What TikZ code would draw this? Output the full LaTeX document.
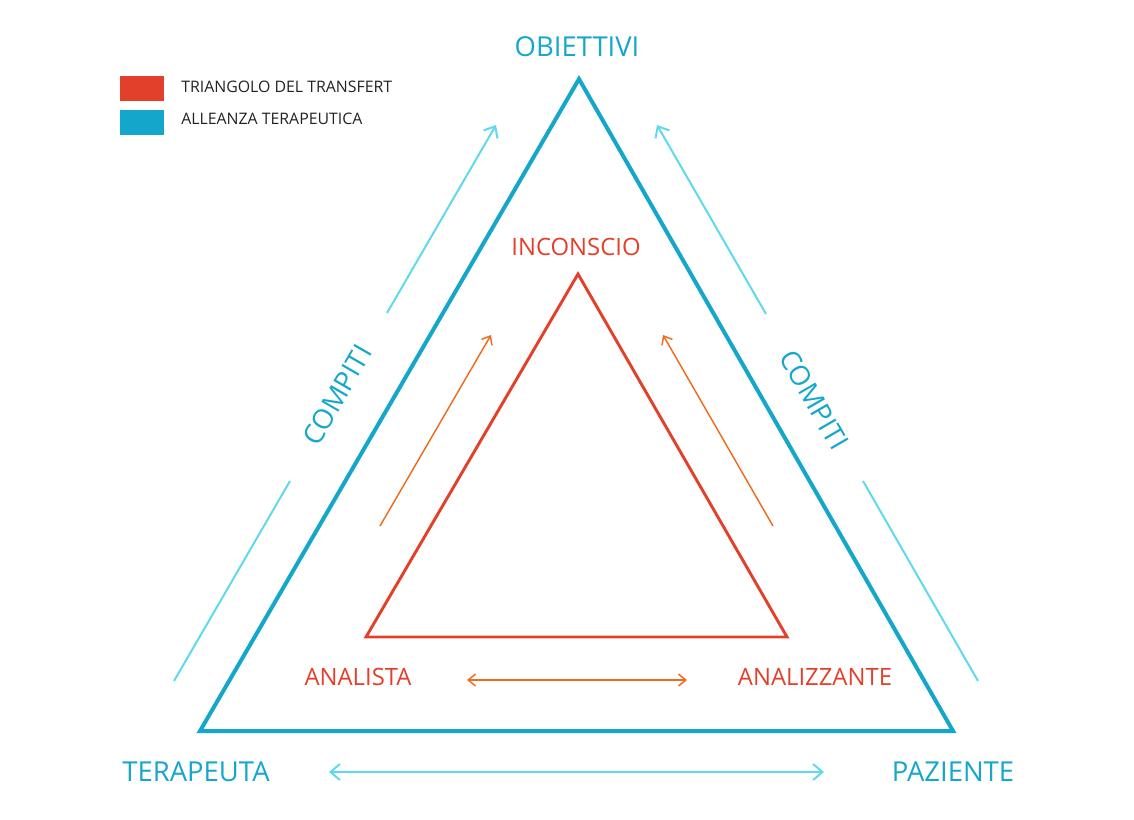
\documentclass[tikz,border=0pt]{standalone}
\usepackage{fontspec}
\setmainfont{Open Sans}
\usetikzlibrary{arrows.meta}
\definecolor{tblue}{HTML}{14A7CB}
\definecolor{lblue}{HTML}{5FD9EC}
\definecolor{tred}{HTML}{E2402A}
\definecolor{torange}{HTML}{EE6C1E}
\definecolor{tgray}{HTML}{222222}
\tikzset{
  lbl/.style={inner sep=0pt, anchor=center, font=\fontsize{20.6}{20.6}\selectfont},
  redlbl/.style={inner sep=0pt, anchor=center, text=tred, font=\fontsize{17.9}{17.9}\selectfont},
  bluelbl/.style={lbl, text=tblue},
  legtxt/.style={inner sep=0pt, anchor=west, text=tgray, font=\fontsize{11.9}{11.9}\selectfont},
  outer/.style={draw=tblue, line width=3pt, line join=miter},
  inner/.style={draw=tred, line width=2.2pt, line join=miter},
  larrow/.style={draw=lblue, line width=1.5pt, -{Straight Barb[length=7pt,width=12pt,line width=1.5pt]}},
  lline/.style={draw=lblue, line width=1.5pt},
  ldouble/.style={draw=lblue, line width=1.5pt, {Straight Barb[length=7pt,width=12pt,line width=1.5pt]}-{Straight Barb[length=7pt,width=12pt,line width=1.5pt]}},
  oarrow/.style={draw=torange, line width=1.1pt, -{Straight Barb[length=5.5pt,width=9pt,line width=1.1pt]}},
  odouble/.style={draw=torange, line width=1.1pt, {Straight Barb[length=5.5pt,width=9pt,line width=1.1pt]}-{Straight Barb[length=5.5pt,width=9pt,line width=1.1pt]}},
}
\begin{document}
\begin{tikzpicture}[x=0.75pt, y=-0.75pt]
\useasboundingbox (0,0) rectangle (1134,819);
% triangles
\coordinate (OA) at (579,79);
\coordinate (OL) at (200,731);
\coordinate (OR) at (953,731);
\draw[outer] (OA) -- (OL) -- (OR) -- cycle;
\coordinate (IA) at (578,274);
\coordinate (IL) at (366,637);
\coordinate (IR) at (787,637);
\draw[inner] (IA) -- (IL) -- (IR) -- cycle;
% legend
\node[fill=tred, minimum width=33pt, minimum height=19pt, inner sep=0pt] (legR) at (142,88.5) {};
\node[fill=tblue, minimum width=33pt, minimum height=19pt, inner sep=0pt] (legB) at (142,122.5) {};
\node[legtxt] (legRt) at (181,87) {TRIANGOLO DEL TRANSFERT};
\node[legtxt] (legBt) at (181,119) {ALLEANZA TERAPEUTICA};
% labels
\node[bluelbl] (obi) at (577,47) {OBIETTIVI};
\node[bluelbl] (ter) at (196,772) {TERAPEUTA};
\node[bluelbl] (paz) at (953,772) {PAZIENTE};
\node[bluelbl, rotate=60] (compL) at (337,395) {COMPITI};
\node[bluelbl, rotate=-60] (compR) at (814,400) {COMPITI};
\node[redlbl] (inc) at (576,247) {INCONSCIO};
\node[redlbl] (ana) at (358,677) {ANALISTA};
\node[redlbl] (anz) at (815,677) {ANALIZZANTE};
% light blue arrows
\coordinate (lu1) at (387,313); \coordinate (lu2) at (496,125);
\coordinate (ll1) at (174,681); \coordinate (ll2) at (290,481);
\coordinate (ru1) at (766,314); \coordinate (ru2) at (657,125);
\coordinate (rl1) at (978,681); \coordinate (rl2) at (863,481);
\coordinate (b1) at (329,772); \coordinate (b2) at (824,772);
\draw[larrow] (lu1) -- (lu2);
\draw[lline] (ll1) -- (ll2);
\draw[larrow] (ru1) -- (ru2);
\draw[lline] (rl1) -- (rl2);
\draw[ldouble] (b1) -- (b2);
% orange arrows
\coordinate (ol1) at (380,526); \coordinate (ol2) at (491,335);
\coordinate (or1) at (773,526); \coordinate (or2) at (663,335);
\coordinate (ob1) at (467,680); \coordinate (ob2) at (687,680);
\draw[oarrow] (ol1) -- (ol2);
\draw[oarrow] (or1) -- (or2);
\draw[odouble] (ob1) -- (ob2);
\end{tikzpicture}
\end{document}
